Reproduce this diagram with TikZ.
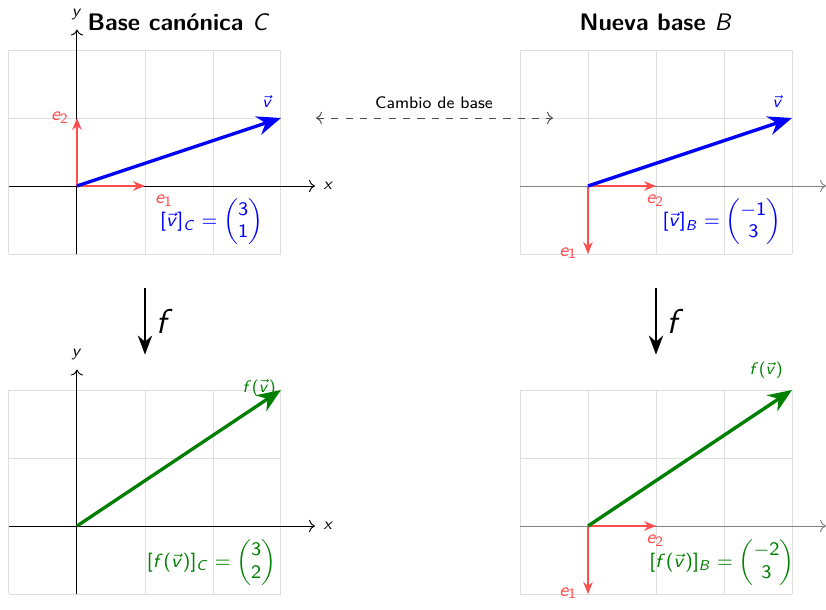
\documentclass[tikz,border=0pt]{standalone}
\usepackage{amsmath}
\usepackage{tikz}
\usetikzlibrary{arrows.meta, positioning, calc}
\renewcommand{\familydefault}{\sfdefault}
% sans serif math, as on the slide
\DeclareSymbolFont{vecaccent}{OML}{cmm}{m}{it}
\SetSymbolFont{letters}{normal}{OT1}{cmss}{m}{sl}
\SetSymbolFont{operators}{normal}{OT1}{cmss}{m}{n}
\SetSymbolFont{letters}{bold}{OT1}{cmss}{bx}{sl}
\SetSymbolFont{operators}{bold}{OT1}{cmss}{bx}{n}
\DeclareMathAccent{\vec}{\mathord}{vecaccent}{"7E}
\definecolor{vecblue}{RGB}{0,0,255}
\definecolor{basered}{RGB}{255,77,77}
\definecolor{imggreen}{RGB}{0,128,0}

\begin{document}
\begin{tikzpicture}[
    gridline/.style={draw=gray!25, thin},
    axisline/.style={->, black},
    axisgray/.style={->, gray},
    basevec/.style={-{Stealth[length=5pt, width=4pt]}, basered, semithick},
    vecv/.style={-{Stealth[length=10pt, width=8pt]}, vecblue, line width=1.4pt},
    vecf/.style={-{Stealth[length=10pt, width=8pt]}, imggreen, line width=1.4pt},
    maparrow/.style={-{Stealth[length=8pt, width=6pt]}, thick},
    title/.style={font=\bfseries},
    axlabel/.style={font=\scriptsize},
    baselabel/.style={font=\footnotesize, text=basered},
    coord/.style={font=\footnotesize},
]
\useasboundingbox (-1.132,-6.235) rectangle (11.015,2.735);

% Base canonica C
\begin{scope}
\coordinate (oC) at (0,0);
\draw[gridline] (-1,-1) grid (3,2);
\draw[axisline] (-1,0) -- (3.5,0);
\draw[axisline] (0,-1) -- (0,2.3);
\node[axlabel] (xC) at (3.7,0) {$x$};
\node[axlabel] (yC) at (0,2.53) {$y$};
\draw[basevec] (oC) -- (1,0);
\draw[basevec] (oC) -- (0,1);
\node[baselabel] (e1C) at (1.28,-0.22) {$e_1$};
\node[baselabel] (e2C) at (-0.25,1.0) {$e_2$};
\draw[vecv] (oC) -- (3,1);
\node[axlabel, text=vecblue] (vC) at (2.8,1.24) {$\vec{v}$};
\node[coord, text=vecblue] (cooC) at (1.98,-0.53) {$[\vec{v}]_C = \begin{pmatrix}3\\1\end{pmatrix}$};
\node[title] (tC) at (1.5,2.41) {Base canónica $C$};
\end{scope}

% Nueva base B
\begin{scope}[shift={(7.515,0)}]
\coordinate (oB) at (0,0);
\draw[gridline] (-1,-1) grid (3,2);
\draw[axisgray] (-1,0) -- (3.5,0);
\draw[basevec] (oB) -- (1,0);
\draw[basevec] (oB) -- (0,-1);
\node[baselabel] (e2B) at (0.99,-0.22) {$e_2$};
\node[baselabel] (e1B) at (-0.29,-0.99) {$e_1$};
\draw[vecv] (oB) -- (3,1);
\node[axlabel, text=vecblue] (vB) at (2.79,1.24) {$\vec{v}$};
\node[coord, text=vecblue] (cooB) at (1.97,-0.53) {$[\vec{v}]_B = \begin{pmatrix}-1\\3\end{pmatrix}$};
\node[title] (tB) at (1,2.41) {Nueva base $B$};
\end{scope}

% Imagen en C
\begin{scope}[shift={(0,-5)}]
\coordinate (ofC) at (0,0);
\draw[gridline] (-1,-1) grid (3,2);
\draw[axisline] (-1,0) -- (3.5,0);
\draw[axisline] (0,-1) -- (0,2.3);
\node[axlabel] (xfC) at (3.7,0) {$x$};
\node[axlabel] (yfC) at (0,2.53) {$y$};
\draw[vecf] (ofC) -- (3,2);
\node[axlabel, text=imggreen] (fvC) at (2.68,2.03) {$f(\vec{v})$};
\node[coord, text=imggreen] (coofC) at (1.98,-0.54) {$[f(\vec{v})]_C = \begin{pmatrix}3\\2\end{pmatrix}$};
\end{scope}

% Imagen en B
\begin{scope}[shift={(7.515,-5)}]
\coordinate (ofB) at (0,0);
\draw[gridline] (-1,-1) grid (3,2);
\draw[axisgray] (-1,0) -- (3.5,0);
\draw[basevec] (ofB) -- (1,0);
\draw[basevec] (ofB) -- (0,-1);
\node[baselabel] (e2fB) at (0.99,-0.22) {$e_2$};
\node[baselabel] (e1fB) at (-0.29,-0.99) {$e_1$};
\draw[vecf] (ofB) -- (3,2);
\node[axlabel, text=imggreen] (fvB) at (2.62,2.29) {$f(\vec{v})$};
\node[coord, text=imggreen] (coofB) at (1.97,-0.54) {$[f(\vec{v})]_B = \begin{pmatrix}-2\\3\end{pmatrix}$};
\end{scope}

% Flechas
\coordinate (fCtop) at (1,-1.5);
\coordinate (fCbot) at (1,-2.48);
\coordinate (fBtop) at (8.515,-1.5);
\coordinate (fBbot) at (8.515,-2.48);
\draw[maparrow] (fCtop) -- (fCbot);
\draw[maparrow] (fBtop) -- (fBbot);
\node[font=\Large] (fC) at (1.29,-2.0) {$f$};
\node[font=\Large] (fB) at (8.8,-2.0) {$f$};

\coordinate (chL) at (3.515,1);
\coordinate (chR) at (7.0,1);
\draw[<->, dashed, black!70] (chL) -- (chR);
\node[font=\scriptsize] (ch) at (5.25,1.22) {Cambio de base};

\end{tikzpicture}
\end{document}
